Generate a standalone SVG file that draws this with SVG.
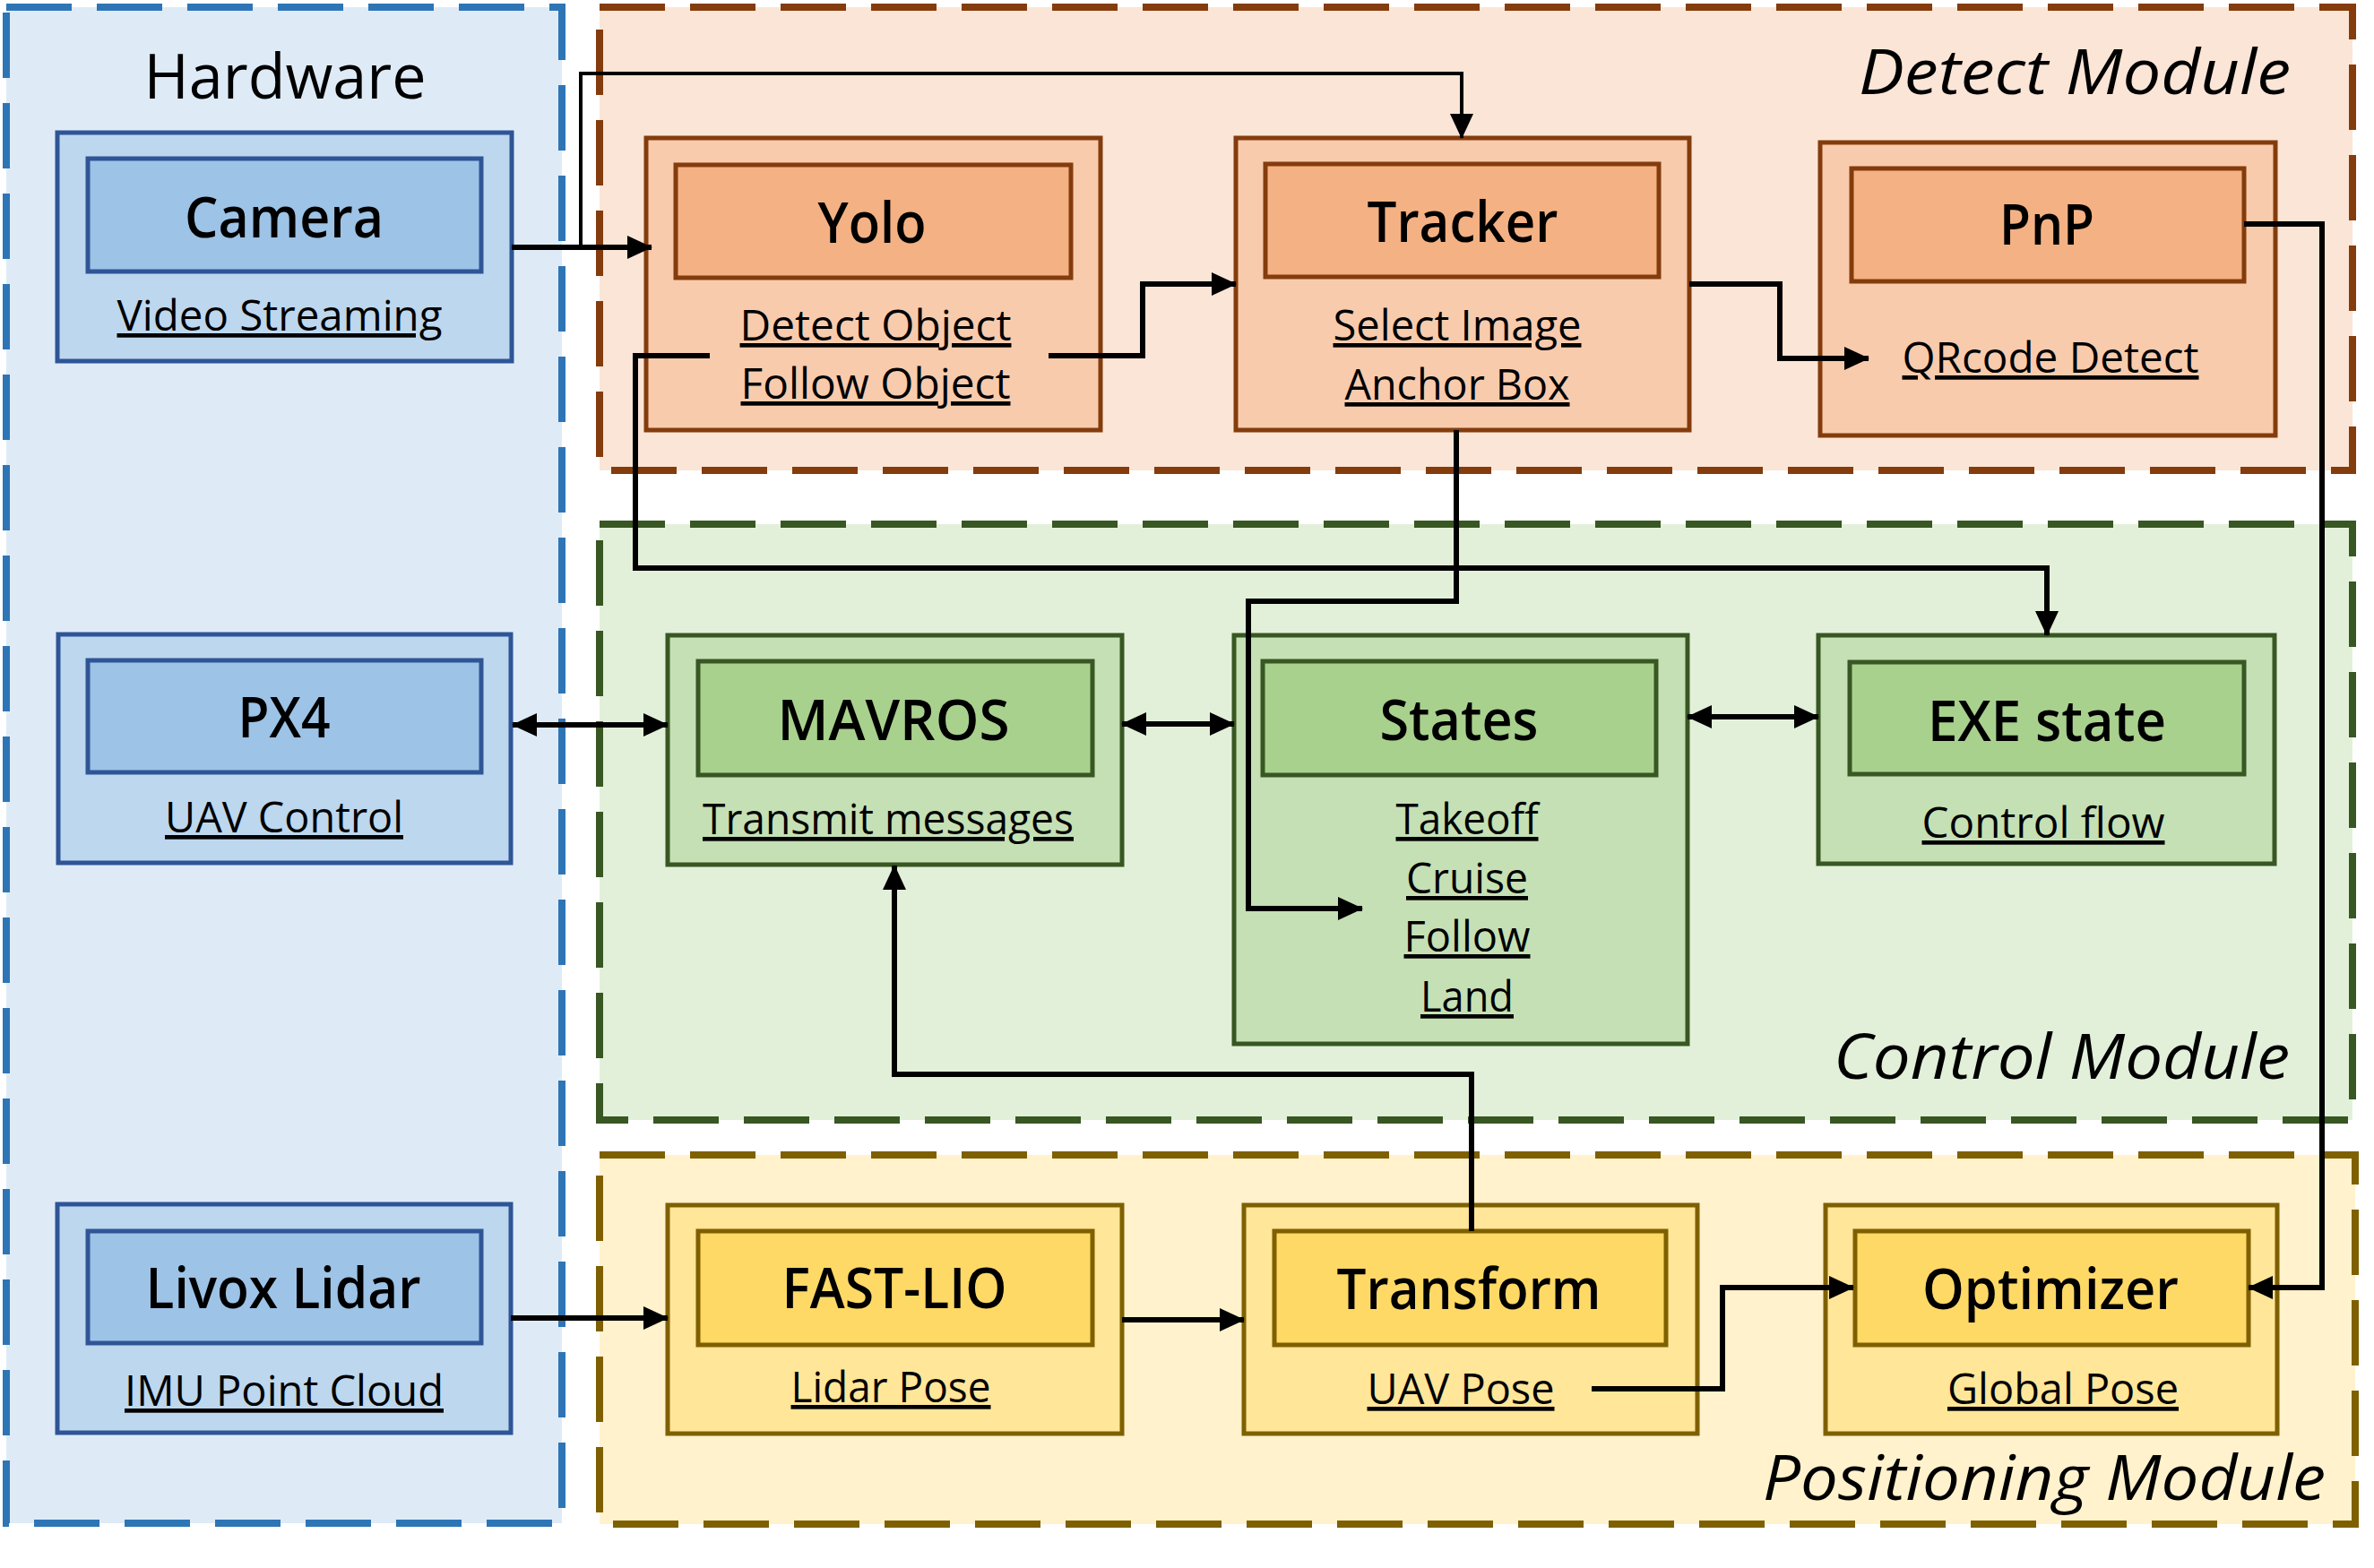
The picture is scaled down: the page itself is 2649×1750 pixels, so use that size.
<svg xmlns="http://www.w3.org/2000/svg" width="2649" height="1750" viewBox="0 0 2649 1750">
<defs>
<style>
.mod{stroke-width:8;stroke-dasharray:73 28}
.hw-m{fill:#DEEBF7;stroke:#2E75B6}
.dt-m{fill:#FBE5D6;stroke:#843C0C}
.ct-m{fill:#E2F0D9;stroke:#385723}
.ps-m{fill:#FFF2CC;stroke:#7F6000}
.hw .o{fill:#BDD7EE;stroke:#2F5597;stroke-width:5}
.hw .i{fill:#9DC3E6;stroke:#2F5597;stroke-width:5}
.dt .o{fill:#F8CBAD;stroke:#843C0C;stroke-width:5}
.dt .i{fill:#F4B183;stroke:#843C0C;stroke-width:5}
.ct .o{fill:#C5E0B4;stroke:#385723;stroke-width:5}
.ct .i{fill:#A9D18E;stroke:#385723;stroke-width:5}
.ps .o{fill:#FFE699;stroke:#7F6000;stroke-width:5}
.ps .i{fill:#FFD966;stroke:#7F6000;stroke-width:5}
text{font-family:"Open Sans","Liberation Sans",sans-serif;fill:#000}
.t{font-size:63px;font-weight:600;text-anchor:middle}
.s{font-size:47px;text-anchor:middle;text-decoration:underline}
.ml{font-size:70px}
.it{font-style:italic}
.c{fill:none;stroke:#000;stroke-width:6;stroke-linejoin:miter}
.thin{stroke-width:4}
.a{marker-end:url(#ah)}
.d{marker-start:url(#ah);marker-end:url(#ah)}
</style>
<marker id="ah" viewBox="0 0 28 26" refX="27" refY="13" markerWidth="28" markerHeight="26" markerUnits="userSpaceOnUse" orient="auto-start-reverse">
<path d="M0,0 L28,13 L0,26 z" fill="#000"/>
</marker>
</defs>

<g id="modules">
<rect class="mod hw-m" x="7" y="8" width="620" height="1692"/>
<rect class="mod dt-m" x="669" y="8" width="1956" height="517"/>
<rect class="mod ct-m" x="669" y="585" width="1956" height="665"/>
<rect class="mod ps-m" x="669" y="1289" width="1959" height="412"/>
<text class="ml" x="318" y="110" text-anchor="middle" textLength="315" lengthAdjust="spacingAndGlyphs">Hardware</text>
<text class="ml it" x="2074" y="105" textLength="482" lengthAdjust="spacingAndGlyphs">Detect Module</text>
<text class="ml it" x="2046" y="1204" textLength="509" lengthAdjust="spacingAndGlyphs">Control Module</text>
<text class="ml it" x="1967" y="1674" textLength="628" lengthAdjust="spacingAndGlyphs">Positioning Module</text>
</g>

<g id="camera" class="hw">
<rect class="o" x="64" y="148" width="507" height="255"/>
<rect class="i" x="98" y="177" width="439" height="126"/>
<text class="t" x="317" y="265" textLength="222" lengthAdjust="spacingAndGlyphs">Camera</text>
<text class="s" x="312" y="369" textLength="363" lengthAdjust="spacingAndGlyphs">Video Streaming</text>
</g>
<g id="px4" class="hw">
<rect class="o" x="65" y="708" width="505" height="255"/>
<rect class="i" x="98" y="737" width="439" height="125"/>
<text class="t" x="317" y="823" textLength="103" lengthAdjust="spacingAndGlyphs">PX4</text>
<text class="s" x="317" y="929" textLength="266" lengthAdjust="spacingAndGlyphs">UAV Control</text>
</g>
<g id="livox" class="hw">
<rect class="o" x="64" y="1344" width="506" height="255"/>
<rect class="i" x="98" y="1374" width="439" height="125"/>
<text class="t" x="316" y="1460" textLength="307" lengthAdjust="spacingAndGlyphs">Livox Lidar</text>
<text class="s" x="317" y="1569" textLength="356" lengthAdjust="spacingAndGlyphs">IMU Point Cloud</text>
</g>

<g id="yolo" class="dt">
<rect class="o" x="721" y="154" width="507" height="326"/>
<rect class="i" x="754" y="184" width="441" height="126"/>
<text class="t" x="973" y="271" textLength="121" lengthAdjust="spacingAndGlyphs">Yolo</text>
<text class="s" x="977" y="380" textLength="303" lengthAdjust="spacingAndGlyphs">Detect Object</text>
<text class="s" x="977" y="445" textLength="301" lengthAdjust="spacingAndGlyphs">Follow Object</text>
</g>
<g id="tracker" class="dt">
<rect class="o" x="1379" y="154" width="506" height="326"/>
<rect class="i" x="1412" y="183" width="439" height="126"/>
<text class="t" x="1632" y="270" textLength="213" lengthAdjust="spacingAndGlyphs">Tracker</text>
<text class="s" x="1626" y="380" textLength="277" lengthAdjust="spacingAndGlyphs">Select Image</text>
<text class="s" x="1626" y="446" textLength="251" lengthAdjust="spacingAndGlyphs">Anchor Box</text>
</g>
<g id="pnp" class="dt">
<rect class="o" x="2031" y="159" width="508" height="327"/>
<rect class="i" x="2066" y="188" width="438" height="126"/>
<text class="t" x="2284" y="273" textLength="106" lengthAdjust="spacingAndGlyphs">PnP</text>
<text class="s" x="2288" y="416" textLength="331" lengthAdjust="spacingAndGlyphs">QRcode Detect</text>
</g>

<g id="mavros" class="ct">
<rect class="o" x="745" y="709" width="507" height="256"/>
<rect class="i" x="779" y="738" width="440" height="127"/>
<text class="t" x="997" y="826" textLength="259" lengthAdjust="spacingAndGlyphs">MAVROS</text>
<text class="s" x="991" y="931" textLength="414" lengthAdjust="spacingAndGlyphs">Transmit messages</text>
</g>
<g id="states" class="ct">
<rect class="o" x="1377" y="709" width="506" height="456"/>
<rect class="i" x="1409" y="738" width="439" height="127"/>
<text class="t" x="1628" y="826" textLength="177" lengthAdjust="spacingAndGlyphs">States</text>
<text class="s" x="1637" y="931" textLength="159" lengthAdjust="spacingAndGlyphs">Takeoff</text>
<text class="s" x="1637" y="997" textLength="136" lengthAdjust="spacingAndGlyphs">Cruise</text>
<text class="s" x="1637" y="1062" textLength="141" lengthAdjust="spacingAndGlyphs">Follow</text>
<text class="s" x="1637" y="1129" textLength="104" lengthAdjust="spacingAndGlyphs">Land</text>
</g>
<g id="exe" class="ct">
<rect class="o" x="2029" y="709" width="509" height="255"/>
<rect class="i" x="2064" y="739" width="440" height="125"/>
<text class="t" x="2284" y="827" textLength="266" lengthAdjust="spacingAndGlyphs">EXE state</text>
<text class="s" x="2280" y="935" textLength="271" lengthAdjust="spacingAndGlyphs">Control flow</text>
</g>

<g id="fastlio" class="ps">
<rect class="o" x="745" y="1345" width="507" height="255"/>
<rect class="i" x="779" y="1374" width="440" height="127"/>
<text class="t" x="998" y="1460" textLength="251" lengthAdjust="spacingAndGlyphs">FAST-LIO</text>
<text class="s" x="994" y="1565" textLength="223" lengthAdjust="spacingAndGlyphs">Lidar Pose</text>
</g>
<g id="transform" class="ps">
<rect class="o" x="1388" y="1345" width="506" height="255"/>
<rect class="i" x="1422" y="1374" width="437" height="127"/>
<text class="t" x="1639" y="1461" textLength="295" lengthAdjust="spacingAndGlyphs">Transform</text>
<text class="s" x="1630" y="1567" textLength="209" lengthAdjust="spacingAndGlyphs">UAV Pose</text>
</g>
<g id="optimizer" class="ps">
<rect class="o" x="2037" y="1345" width="504" height="255"/>
<rect class="i" x="2070" y="1374" width="439" height="127"/>
<text class="t" x="2288" y="1461" textLength="286" lengthAdjust="spacingAndGlyphs">Optimizer</text>
<text class="s" x="2302" y="1567" textLength="258" lengthAdjust="spacingAndGlyphs">Global Pose</text>
</g>

<g id="connectors">
<path class="c a" d="M571,276 H727"/>
<path class="c thin a" d="M648,276 V82 H1631 V154"/>
<path class="c a" d="M1170,397 H1275 V317 H1379"/>
<path class="c a" d="M792,397 H709 V634 H2284 V709"/>
<path class="c a" d="M1885,317 H1986 V400 H2085"/>
<path class="c a" d="M1625,480 V671 H1393 V1014 H1520"/>
<path class="c a" d="M2504,250 H2591 V1437 H2509"/>
<path class="c d" d="M572,809 H745"/>
<path class="c d" d="M1252,808 H1377"/>
<path class="c d" d="M1883,800 H2029"/>
<path class="c a" d="M1642,1374 V1199 H998 V966"/>
<path class="c a" d="M570,1471 H745"/>
<path class="c a" d="M1252,1473 H1388"/>
<path class="c a" d="M1776,1550 H1922 V1437 H2068"/>
</g>
</svg>
